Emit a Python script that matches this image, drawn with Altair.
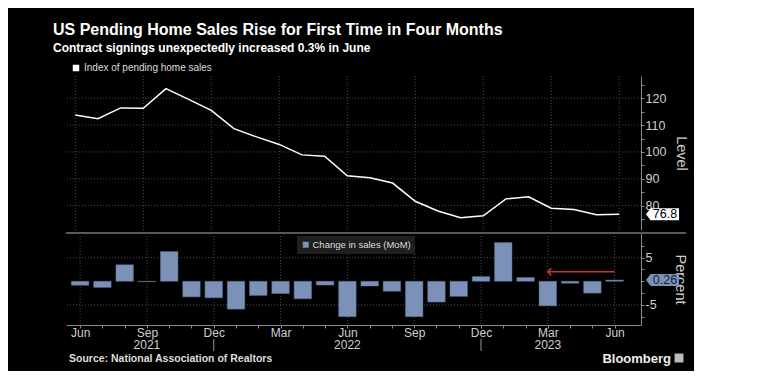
import altair as alt
import pandas as pd

# ---------------- data ----------------
month_index = list(range(25))  # Jun 2021 .. Jun 2023
level = [113.8, 112.4, 116.4, 116.3, 123.6, 119.6, 115.5, 108.7, 105.6, 102.8,
         98.9, 98.4, 91.1, 90.4, 88.4, 81.6, 78.0, 75.5, 76.2, 82.5,
         83.3, 79.0, 78.5, 76.6, 76.8]
change = [-0.85, -1.3, 3.5, -0.1, 6.3, -3.3, -3.5, -5.9, -3.0, -2.6,
          -3.7, -0.8, -7.5, -1.0, -2.1, -7.5, -4.4, -3.2, 1.0, 8.2,
          0.8, -5.2, -0.4, -2.5, 0.26]
level_series = ["Index of pending home sales"]
change_series = ["Change in sales (MoM)"]
tick_months = [0, 3, 6, 9, 12, 15, 18, 21, 24]
year_months = [3, 12, 21]
year_labels = ["2021", "2022", "2023"]
level_grid = [80, 90, 100, 110, 120]
change_grid = [5, -5]
year_breaks = [6, 18]
arrow_start, arrow_end, arrow_level = 24, 21, 2.0
last_level = ["76.8"]
last_change = ["0.26"]

FONT = "Liberation Sans, Arial, sans-serif"
GRID = "#4a4a4a"
AX = "#8a8a8a"
LAB = "#cfcfcf"
BAR = "#7b91b8"

W, H1, H2 = 575, 154, 92

df = pd.DataFrame({"m": month_index, "level": level, "change": change,
                   "s1": level_series * 25, "s2": change_series * 25})
ticks_df = pd.DataFrame({"m": tick_months})
years_df = pd.DataFrame({"m": year_months, "t": year_labels})
lg_df = pd.DataFrame({"v": level_grid})
cg_df = pd.DataFrame({"v": change_grid})
yb_df = pd.DataFrame({"m": year_breaks})
arrow_df = pd.DataFrame({"a": [arrow_end], "b": [arrow_start], "y": [arrow_level]})
tag1_df = pd.DataFrame({"y": [float(last_level[0])], "t": last_level})
tag2_df = pd.DataFrame({"y": [float(last_change[0])], "t": last_change})

xs = alt.Scale(domain=[-0.41, 24.96], nice=False, zero=False)
ys1 = alt.Scale(domain=[70.9, 128.3], nice=False, zero=False)
ys2 = alt.Scale(domain=[-9.26, 10.23], nice=False, zero=False)

yax1 = alt.Axis(orient="right", values=list(range(75, 130, 5)),
                labelExpr="datum.value % 10 == 0 ? datum.label : ''",
                grid=False, domainColor=AX, tickColor=AX, tickSize=3,
                labelColor=LAB, labelFont=FONT, labelFontSize=12.5, labelPadding=1,
                title="Level", titleColor=LAB, titleFont=FONT, titleFontSize=14.5,
                titleFontWeight="normal", titlePadding=8, labelOverlap=False)
yax2 = alt.Axis(orient="right", values=[-7.5, -5, -2.5, 0, 2.5, 5, 7.5],
                labelExpr="abs(datum.value) == 5 ? (datum.value < 0 ? '-5' : '5') : ''",
                grid=False, domainColor=AX, tickColor=AX, tickSize=3,
                labelColor=LAB, labelFont=FONT, labelFontSize=12.5, labelPadding=1,
                title="Percent", titleColor=LAB, titleFont=FONT, titleFontSize=14.5,
                titleFontWeight="normal", titlePadding=16, labelOverlap=False)
xax2 = alt.Axis(values=month_index,
                labelExpr="datum.value % 3 == 0 ? ['Jun','Sep','Dec','Mar'][(datum.value/3)%4] : ''",
                grid=False, domainColor=AX, tickColor=AX, tickSize=3,
                labelColor=LAB, labelFont=FONT, labelFontSize=12, labelPadding=-1,
                labelFlush=False, labelOverlap=False, labelBound=False, title=None)

# ---------------- top panel ----------------
vgrid1 = alt.Chart(ticks_df).mark_rule(color=GRID, strokeDash=[1, 2]).encode(
    x=alt.X("m:Q", scale=xs, axis=None))
hgrid1 = alt.Chart(lg_df).mark_rule(color=GRID, strokeDash=[1, 2]).encode(
    y=alt.Y("v:Q", scale=ys1, axis=yax1))
line = alt.Chart(df).mark_line(strokeWidth=1.5).encode(
    x=alt.X("m:Q", scale=xs, axis=None),
    y=alt.Y("level:Q", scale=ys1, axis=yax1),
    color=alt.Color("s1:N", scale=alt.Scale(domain=level_series, range=["#ffffff"]),
                    legend=alt.Legend(orient="none", legendX=5, legendY=-13, title=None,
                                      symbolType="square", symbolSize=12, symbolStrokeWidth=3,
                                      symbolFillColor="#ffffff", labelColor="#dddddd",
                                      labelFont=FONT, labelFontSize=10, labelOffset=3)))
tag_path = "M-1.18,0 L-0.85,-0.43 L1.18,-0.43 L1.18,0.43 L-0.85,0.43 Z"
tag1 = alt.Chart(tag1_df).mark_point(shape=tag_path, filled=True, size=784, opacity=1,
                                     color="#ffffff").encode(
    x=alt.value(W + 21.5), y=alt.Y("y:Q", scale=ys1, axis=yax1))
tag1t = alt.Chart(tag1_df).mark_text(font=FONT, fontSize=12.5, color="#000000", align="center",
                                     baseline="middle").encode(
    x=alt.value(W + 24), y=alt.Y("y:Q", scale=ys1, axis=yax1), text="t:N")
top = alt.layer(vgrid1, hgrid1, line, tag1, tag1t).properties(width=W, height=H1)

# ---------------- bottom panel ----------------
vgrid2 = alt.Chart(ticks_df).mark_rule(color=GRID, strokeDash=[1, 2]).encode(
    x=alt.X("m:Q", scale=xs, axis=xax2))
hgrid2 = alt.Chart(cg_df).mark_rule(color=GRID, strokeDash=[1, 2]).encode(
    y=alt.Y("v:Q", scale=ys2, axis=yax2))
bars = alt.Chart(df).mark_bar(size=17.5, stroke="#5d7090", strokeWidth=0.5).encode(
    x=alt.X("m:Q", scale=xs, axis=xax2),
    y=alt.Y("change:Q", scale=ys2, axis=yax2),
    y2=alt.datum(0),
    color=alt.Color("s2:N", scale=alt.Scale(domain=change_series, range=[BAR]),
                    legend=alt.Legend(orient="none", legendX=231, legendY=3, title=None,
                                      symbolType="square", symbolSize=36, symbolStrokeWidth=0,
                                      fillColor="#1f1f1f", padding=4, labelColor="#dddddd",
                                      labelFont=FONT, labelFontSize=9.5, labelOffset=2)))
sep = alt.Chart(df.head(1)).mark_rule(color="#5a5a5a", strokeWidth=2).encode(
    x=alt.value(0), x2=alt.value(W + 45), y=alt.value(0))
arrow = alt.Chart(arrow_df).mark_rule(color="#d0303f", strokeWidth=1.5).encode(
    x=alt.X("a:Q", scale=xs, axis=xax2), x2="b:Q", y=alt.Y("y:Q", scale=ys2, axis=yax2))
head = alt.Chart(arrow_df).mark_point(shape="M1,-1 L0,0 L1,1", size=49, filled=False,
                                      color="#d0303f", strokeWidth=1.5, opacity=1).encode(
    x=alt.X("a:Q", scale=xs, axis=xax2), y=alt.Y("y:Q", scale=ys2, axis=yax2))
tag2 = alt.Chart(tag2_df).mark_point(shape=tag_path, filled=True, size=784, opacity=1,
                                     color=BAR).encode(
    x=alt.value(W + 21.5), y=alt.Y("y:Q", scale=ys2, axis=yax2))
tag2t = alt.Chart(tag2_df).mark_text(font=FONT, fontSize=12.5, color="#1a2233", align="center",
                                     baseline="middle").encode(
    x=alt.value(W + 24), y=alt.Y("y:Q", scale=ys2, axis=yax2), text="t:N")
years = alt.Chart(years_df).mark_text(font=FONT, fontSize=12, color=LAB, align="center",
                                      baseline="middle").encode(
    x=alt.X("m:Q", scale=xs, axis=xax2), y=alt.value(H2 + 20), text="t:N")
ybreak = alt.Chart(yb_df).mark_rule(color="#9a9a9a").encode(
    x=alt.X("m:Q", scale=xs, axis=xax2), y=alt.value(H2 + 14), y2=alt.value(H2 + 26))
source = alt.Chart(df.head(1)).mark_text(text="Source: National Association of Realtors",
                                         font=FONT, fontSize=10.5, fontWeight="bold",
                                         color="#dddddd", align="left",
                                         baseline="alphabetic").encode(
    x=alt.value(3), y=alt.value(H2 + 37))
brand = alt.Chart(df.head(1)).mark_text(text="Bloomberg", font=FONT,
                                        fontSize=13, fontWeight="bold", color="#eeeeee",
                                        align="right", baseline="alphabetic").encode(
    x=alt.value(W + 30), y=alt.value(H2 + 38))
icon = alt.Chart(df.head(1)).mark_point(shape="square", filled=True, size=80, color="#bbbbbb",
                                        opacity=1).encode(
    x=alt.value(W + 38), y=alt.value(H2 + 33))
bottom = alt.layer(vgrid2, hgrid2, bars, sep, arrow, head, tag2, tag2t, years, ybreak,
                   source, brand, icon).properties(width=W, height=H2)

chart = alt.vconcat(top, bottom, spacing=1).resolve_scale(
    color="independent").resolve_legend(color="independent").properties(
    title=alt.TitleParams(text="US Pending Home Sales Rise for First Time in Four Months",
                          subtitle="Contract signings unexpectedly increased 0.3% in June",
                          anchor="start", dx=-12, offset=9, font=FONT, fontSize=16,
                          fontWeight="bold", color="#ffffff", subtitleFont=FONT,
                          subtitleFontSize=12, subtitleFontWeight="bold",
                          subtitleColor="#ffffff", subtitlePadding=5)
).configure(background="#000000", padding={"left": 45, "top": 14, "right": 5, "bottom": 5}
).configure_view(stroke=None)

chart.save("out.html", embed_options={"renderer": "svg", "actions": False})
